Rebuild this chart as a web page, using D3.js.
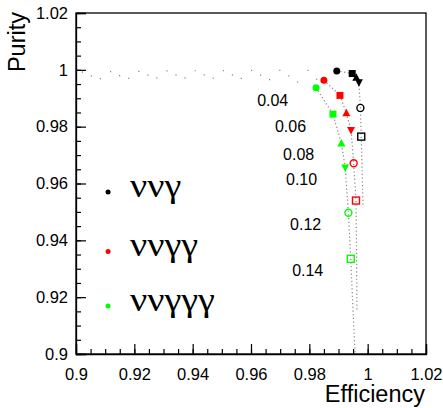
<!DOCTYPE html>
<html><head><meta charset="utf-8">
<script src="https://cdn.jsdelivr.net/npm/d3@7"></script>
<style>body{margin:0;background:#fff}svg{display:block}</style>
</head><body>
<script>
// ---- data ----
const xTicks = [0.9, 0.92, 0.94, 0.96, 0.98, 1, 1.02];
const yTicks = [0.9, 0.92, 0.94, 0.96, 0.98, 1, 1.02];
const cutLabels = ["0.04", "0.06", "0.08", "0.10", "0.12", "0.14"];
const cutLabelPos = [[0.9621, 0.9873], [0.9682, 0.9781], [0.9710, 0.9683], [0.9720, 0.9595], [0.9734, 0.9436], [0.9741, 0.9275]];
const seriesNames = ["ννγ", "ννγγ", "ννγγγ"];
const seriesColors = ["#000000", "#ff0000", "#00ff00"];
const markerShapes = ["fcircle", "fsquare", "tup", "tdown", "ocircle", "osquare"];
// marker points (efficiency, purity) for each series at cuts 0.04..0.14
const markBlack = [[0.9894, 0.9996], [0.9947, 0.9987], [0.9961, 0.9972], [0.9970, 0.9956], [0.9975, 0.9866], [0.9978, 0.9765]];
const markRed   = [[0.9850, 0.9963], [0.9905, 0.9910], [0.9927, 0.9847], [0.9943, 0.9788], [0.9952, 0.9671], [0.9960, 0.9540]];
const markGreen = [[0.9823, 0.9937], [0.9881, 0.9844], [0.9910, 0.9741], [0.9923, 0.9656], [0.9934, 0.9497], [0.9942, 0.9335]];
// dotted curves
const curveBlack = [[0.902, 0.9992], [0.93, 0.9996], [0.96, 0.9998], [0.98, 0.9998], [0.9894, 0.9996], [0.9947, 0.9987], [0.9961, 0.9972], [0.9970, 0.9956], [0.9975, 0.9866], [0.9978, 0.9765], [0.9981, 0.9650], [0.9984, 0.9517]];
const curveRed   = [[0.902, 0.9978], [0.93, 0.9982], [0.96, 0.9982], [0.975, 0.9978], [0.9850, 0.9963], [0.9905, 0.9910], [0.9927, 0.9847], [0.9943, 0.9788], [0.9952, 0.9671], [0.9960, 0.9540], [0.9962, 0.935], [0.9963, 0.9150]];
const curveGreen = [[0.902, 0.9968], [0.93, 0.9972], [0.96, 0.9970], [0.975, 0.9960], [0.9823, 0.9937], [0.9881, 0.9844], [0.9910, 0.9741], [0.9923, 0.9656], [0.9934, 0.9497], [0.9942, 0.9335], [0.9950, 0.915], [0.9957, 0.9000]];
const legendY = [0.9570, 0.9361, 0.9169];

const W = 443, H = 408;
const L = 76, R = 426, T = 13, B = 354;
const x = d3.scaleLinear().domain([0.9, 1.02]).range([L, R]);
const y = d3.scaleLinear().domain([0.9, 1.02]).range([B, T]);

const svg = d3.select("body").append("svg").attr("width", W).attr("height", H);
const FONT = "'Liberation Sans', Arial, sans-serif";

// frame
svg.append("rect").attr("x", L).attr("y", T).attr("width", R - L).attr("height", B - T)
  .attr("fill", "none").attr("stroke", "#000").attr("stroke-width", 1.3);

// x axis
const xMinor = d3.range(0, 25).map(i => 0.9 + i * 0.005);
const xa = svg.append("g").attr("transform", `translate(0,${B})`);
xa.call(d3.axisBottom(x).tickValues(xMinor).tickSize(-5).tickFormat(""))
  .call(g => g.select(".domain").remove());
xa.append("g").call(d3.axisBottom(x).tickValues(xTicks).tickSize(-10).tickPadding(14).tickFormat(d3.format("")))
  .call(g => g.select(".domain").attr("stroke-width", 1.3))
  .call(g => g.selectAll("text").attr("font-family", FONT).attr("font-size", 16.5).attr("fill", "#000"));

// y axis
const ya = svg.append("g").attr("transform", `translate(${L},0)`);
ya.call(d3.axisLeft(y).tickValues(xMinor).tickSize(-5).tickFormat(""))
  .call(g => g.select(".domain").remove());
ya.append("g").call(d3.axisLeft(y).tickValues(yTicks).tickSize(-10).tickPadding(8).tickFormat(d3.format("")))
  .call(g => g.select(".domain").attr("stroke-width", 1.3))
  .call(g => g.selectAll("text").attr("font-family", FONT).attr("font-size", 16.5).attr("fill", "#000"));
svg.selectAll(".tick line").attr("stroke-width", 1.2);

// axis titles
svg.append("text").attr("x", R - 1).attr("y", 402).attr("text-anchor", "end")
  .attr("font-family", FONT).attr("font-size", 23.5).text("Efficiency");
svg.append("text").attr("transform", `translate(25,12) rotate(-90)`).attr("text-anchor", "end")
  .attr("font-family", FONT).attr("font-size", 23.5).text("Purity");

// curves
const line = d3.line().x(d => x(d[0])).y(d => y(d[1]));
[curveBlack, curveRed, curveGreen].forEach((c, ci) => {
  const split = 4;
  svg.append("path").attr("d", line(c.slice(0, split + 1))).attr("fill", "none")
    .attr("stroke", "#888").attr("stroke-width", 1.2).attr("stroke-dasharray", "1.2,27")
    .attr("stroke-dashoffset", -ci * 9);
  svg.append("path").attr("d", line(c.slice(split))).attr("fill", "none")
    .attr("stroke", "#888").attr("stroke-width", 1.2).attr("stroke-dasharray", "1.2,2.5");
});

// markers
function drawMarker(g, shape, cx, cy, col) {
  if (shape === "fcircle") g.append("circle").attr("cx", cx).attr("cy", cy).attr("r", 3.5).attr("fill", col);
  else if (shape === "fsquare") g.append("rect").attr("x", cx - 3.5).attr("y", cy - 3.5).attr("width", 7).attr("height", 7).attr("fill", col);
  else if (shape === "tup") g.append("path").attr("d", `M${cx},${cy - 4.5}L${cx + 4},${cy + 3}L${cx - 4},${cy + 3}Z`).attr("fill", col);
  else if (shape === "tdown") g.append("path").attr("d", `M${cx},${cy + 4.5}L${cx + 4},${cy - 3}L${cx - 4},${cy - 3}Z`).attr("fill", col);
  else if (shape === "ocircle") g.append("circle").attr("cx", cx).attr("cy", cy).attr("r", 3.5).attr("fill", "none").attr("stroke", col).attr("stroke-width", 1.4);
  else if (shape === "osquare") g.append("rect").attr("x", cx - 3.5).attr("y", cy - 3.5).attr("width", 7).attr("height", 7).attr("fill", "none").attr("stroke", col).attr("stroke-width", 1.4);
}
const mg = svg.append("g");
[markBlack, markRed, markGreen].forEach((pts, si) => {
  pts.forEach((p, i) => drawMarker(mg, markerShapes[i], x(p[0]), y(p[1]), seriesColors[si]));
});

// cut labels
cutLabels.forEach((t, i) => {
  svg.append("text").attr("x", x(cutLabelPos[i][0])).attr("y", y(cutLabelPos[i][1]))
    .attr("font-family", FONT).attr("font-size", 16).text(t);
});

// legend
seriesNames.forEach((n, i) => {
  const ly = y(legendY[i]);
  svg.append("circle").attr("cx", x(0.9110)).attr("cy", ly).attr("r", 2.5).attr("fill", seriesColors[i]);
  svg.append("text").attr("transform", `translate(${x(0.9185)},${ly + 5}) scale(1.12,1)`)
    .attr("font-family", "'Liberation Serif', 'DejaVu Serif', serif").attr("font-size", 34).text(n);
});
</script>
</body></html>
